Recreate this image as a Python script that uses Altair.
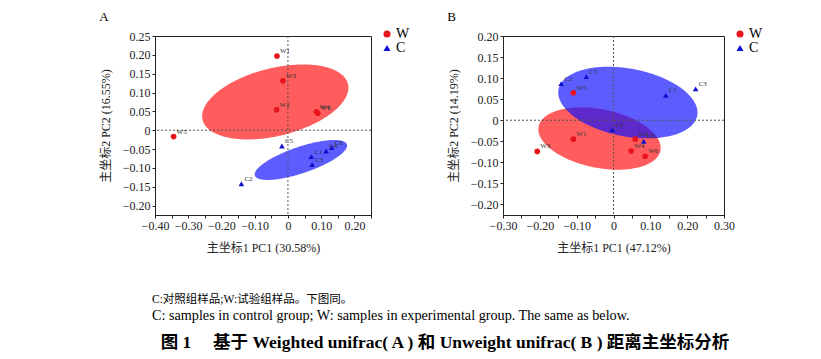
import altair as alt
import pandas as pd
import numpy as np

FONT = "Liberation Serif, Noto Sans CJK SC"

labels = ["W1", "W2", "W3", "W4", "W5", "W6", "C1", "C2", "C3", "C4", "C5", "C6"]
groups = ["W"] * 6 + ["C"] * 6

# Panel A (Weighted unifrac)
a_pc1 = [-0.033, -0.034, -0.015, 0.086, -0.344, 0.090, 0.070, -0.140, 0.073, 0.115, -0.018, 0.132]
a_pc2 = [0.197, 0.054, 0.131, 0.049, -0.017, 0.045, -0.070, -0.142, -0.091, -0.055, -0.042, -0.046]
# Panel B (Unweight unifrac)
b_pc1 = [-0.109, 0.059, -0.207, 0.048, -0.109, 0.086, 0.142, -0.142, 0.223, -0.003, -0.074, 0.082]
b_pc2 = [-0.045, -0.045, -0.074, -0.073, 0.065, -0.0855, 0.059, 0.087, 0.0745, -0.023, 0.1035, -0.050]

# ellipses: group, centre x, centre y, x half-extent, y half-extent, correlation
a_ell = [("W", -0.038, 0.075, 0.220, 0.0995, 0.38), ("C", 0.039, -0.079, 0.139, 0.053, 0.72)]
b_ell = [("W", -0.038, -0.0435, 0.166, 0.074, -0.30), ("C", 0.039, 0.042, 0.189, 0.085, -0.28)]

a_xdom = [-0.40, 0.25]
b_xdom = [-0.30, 0.30]
ydom_a = [-0.225, 0.25]
ydom_b = [-0.225, 0.20]
a_xticks = [round(v, 2) for v in np.arange(-0.40, 0.2501, 0.05)]
b_xticks = [round(v, 2) for v in np.arange(-0.30, 0.3001, 0.05)]
a_yticks = [round(v, 2) for v in np.arange(-0.20, 0.2501, 0.05)]
b_yticks = [round(v, 2) for v in np.arange(-0.20, 0.2001, 0.05)]

caption_cn = "C:对照组样品;W:试验组样品。下图同。"
caption_en = "C: samples in control group; W: samples in experimental group. The same as below."
fig_title = "图 1\u2003 基于 Weighted unifrac( A ) 和 Unweight unifrac( B ) 距离主坐标分析"

RED = "#e8141b"
BLUE = "#1010d0"
FILL = {"W": "#ff1010", "C": "#1010ff"}

LBL = "datum.value == 0 ? '0' : format(datum.value, '.2f')"
XLBL = "abs(round(datum.value * 100)) % 10 == 0 ? (" + LBL + ") : ''"


def ellipse_df(cx, cy, rx, ry, rho):
    s = np.linspace(np.pi, 0, 121)
    u = np.cos(s)
    k = np.sqrt(1 - rho ** 2) * np.sqrt(np.clip(1 - u ** 2, 0, None))
    return pd.DataFrame({"x": cx + rx * u, "lo": cy + ry * (rho * u - k), "hi": cy + ry * (rho * u + k)})


def panel(name, pc1, pc2, ells, xdom, ydom, xticks, yticks, xtitle, ytitle, w, h):
    xs = alt.Scale(domain=xdom, nice=False, zero=False)
    ys = alt.Scale(domain=ydom, nice=False, zero=False)
    xaxis = alt.Axis(values=xticks, labelExpr=XLBL, title=xtitle, grid=False, labelOverlap=False,
                     labelFlush=False, tickSize=3, domainColor="#222", tickColor="#222", titlePadding=11)
    yaxis = alt.Axis(values=yticks, labelExpr=LBL, title=ytitle, grid=False, labelOverlap=False,
                     labelFlush=False, tickSize=3, domainColor="#222", tickColor="#222", titlePadding=10)
    layers = []
    for g, cx, cy, rx, ry, rho in ells:
        layers.append(
            alt.Chart(ellipse_df(cx, cy, rx, ry, rho)).mark_area(color=FILL[g], opacity=0.68, orient="vertical")
            .encode(x=alt.X("x:Q", scale=xs, axis=xaxis), y=alt.Y("lo:Q", scale=ys, axis=yaxis), y2="hi:Q")
        )
    zero = pd.DataFrame({"v": [0.0]})
    layers.append(alt.Chart(zero).mark_rule(color="#555", strokeDash=[2, 2], strokeWidth=1)
                  .encode(x=alt.X("v:Q", scale=xs, axis=xaxis)))
    layers.append(alt.Chart(zero).mark_rule(color="#555", strokeDash=[2, 2], strokeWidth=1)
                  .encode(y=alt.Y("v:Q", scale=ys, axis=yaxis)))
    pts = pd.DataFrame({"label": labels, "group": groups, "x": pc1, "y": pc2})
    leg = alt.Legend(title=None, orient="none", legendX=w + 9, legendY=-9, labelFontSize=14,
                     symbolSize=50, rowPadding=-4, labelOffset=2, symbolStrokeWidth=0)
    base = alt.Chart(pts).encode(x=alt.X("x:Q", scale=xs, axis=xaxis), y=alt.Y("y:Q", scale=ys, axis=yaxis))
    layers.append(base.mark_point(filled=True, opacity=1, size=32).encode(
        color=alt.Color("group:N", scale=alt.Scale(domain=["W", "C"], range=[RED, BLUE]), legend=leg),
        shape=alt.Shape("group:N", scale=alt.Scale(domain=["W", "C"], range=["circle", "triangle-up"]), legend=leg),
    ))
    layers.append(base.mark_text(align="left", dx=3, dy=-5, fontSize=7, color="#333").encode(text="label:N"))
    return alt.layer(*layers).properties(
        width=w, height=h,
        title=alt.TitleParams(name, anchor="start", frame="bounds", fontSize=13, fontWeight="normal", offset=3),
    )


pA = panel("A", a_pc1, a_pc2, a_ell, a_xdom, ydom_a, a_xticks, a_yticks,
           "主坐标1 PC1 (30.58%)", "主坐标2 PC2 (16.55%)", 216, 179)
pB = panel("B", b_pc1, b_pc2, b_ell, b_xdom, ydom_b, b_xticks, b_yticks,
           "主坐标1 PC1 (47.12%)", "主坐标2 PC2 (14.19%)", 221, 179)

top = alt.hconcat(pA, pB, spacing=35).resolve_legend(color="independent", shape="independent")

cap = alt.layer(
    alt.Chart(pd.DataFrame({"t": [caption_cn]})).mark_text(align="left", baseline="middle", fontSize=11.5)
    .encode(x=alt.value(-3), y=alt.value(37), text="t:N"),
    alt.Chart(pd.DataFrame({"t": [caption_en]})).mark_text(align="left", baseline="middle", fontSize=14.2)
    .encode(x=alt.value(-3), y=alt.value(53), text="t:N"),
    alt.Chart(pd.DataFrame({"t": [fig_title]})).mark_text(align="center", baseline="middle", fontSize=17.5, fontWeight="bold")
    .encode(x=alt.value(290), y=alt.value(80), text="t:N"),
).properties(width=640, height=88, view=alt.ViewBackground(stroke="transparent"))

chart = alt.vconcat(top, cap, spacing=8).properties(
    padding={"left": 90, "top": 2, "right": 5, "bottom": 0}
).configure(font=FONT).configure_view(stroke="#222", strokeWidth=1).configure_axis(
    labelFontSize=12, titleFontSize=12, titleFontWeight="normal", labelColor="#222", titleColor="#222",
    labelFont=FONT, titleFont=FONT
).configure_legend(labelFont=FONT)

chart.save("out.html", embed_options={"renderer": "svg", "actions": False})
